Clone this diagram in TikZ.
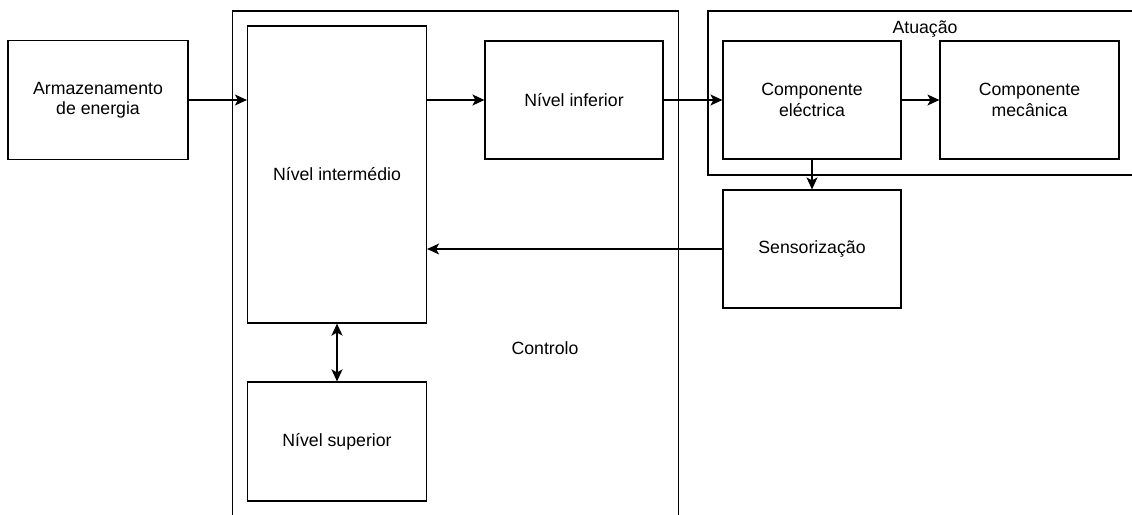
\documentclass[tikz,border=0pt]{standalone}
\usepackage{fontspec}
\setmainfont{Liberation Sans}
\usetikzlibrary{arrows.meta,positioning}
\tikzstyle{block} = [draw, line width=1.2pt, minimum width=178pt, minimum height=118pt, align=center, inner sep=0pt]
\tikzstyle{group} = [line width=1.2pt]
\tikzstyle{link} = [line width=1.2pt, -{Stealth[length=12pt,width=11pt,inset=3pt]}]
\tikzstyle{bilink} = [line width=2pt, {Stealth[length=12pt,width=11pt,inset=3pt]}-{Stealth[length=12pt,width=11pt,inset=3pt]}]

\begin{document}
\begin{tikzpicture}[x=1pt, y=-1pt, font=\fontsize{17.7}{20.5}\selectfont]

\clip (0,0) rectangle (1132,514);

% outer groups
\draw[group] (232.5,11) rectangle (678.5,690);
\node (controlo) at (545,348) {Controlo};
\draw[group] (708,11) rectangle (1142,175);
\node (atuacao) at (925,29) {Atuação};

\node[block, minimum width=180pt, minimum height=119pt] (armaz) at (98,100) {Armazenamento\\de energia};
\node[block, minimum width=179pt, minimum height=297pt] (inter) at (337,174.5) {Nível intermédio};
\node[block] (inferior) at (574,100) {Nível inferior};
\node[block, minimum width=179pt, minimum height=119pt] (superior) at (337,441.5) {Nível superior};
\node[block] (eletrica) at (812,100) {Componente\\eléctrica};
\node[block, minimum width=179pt] (mecanica) at (1029.5,100) {Componente\\mecânica};
\node[block] (sensor) at (812,249) {Sensorização};

\draw[link] (armaz.east) -- (armaz.east -| inter.west);
\draw[link] (inferior.west -| inter.east) -- (inferior.west);
\draw[link] (inferior.east) -- (eletrica.west);
\draw[link] (eletrica.east) -- (mecanica.west);
\draw[link] (eletrica.south) -- (sensor.north);
\draw[link] (sensor.west) -- (sensor.west -| inter.east);
\draw[bilink] (inter.south) -- (superior.north);

\end{tikzpicture}
\end{document}
